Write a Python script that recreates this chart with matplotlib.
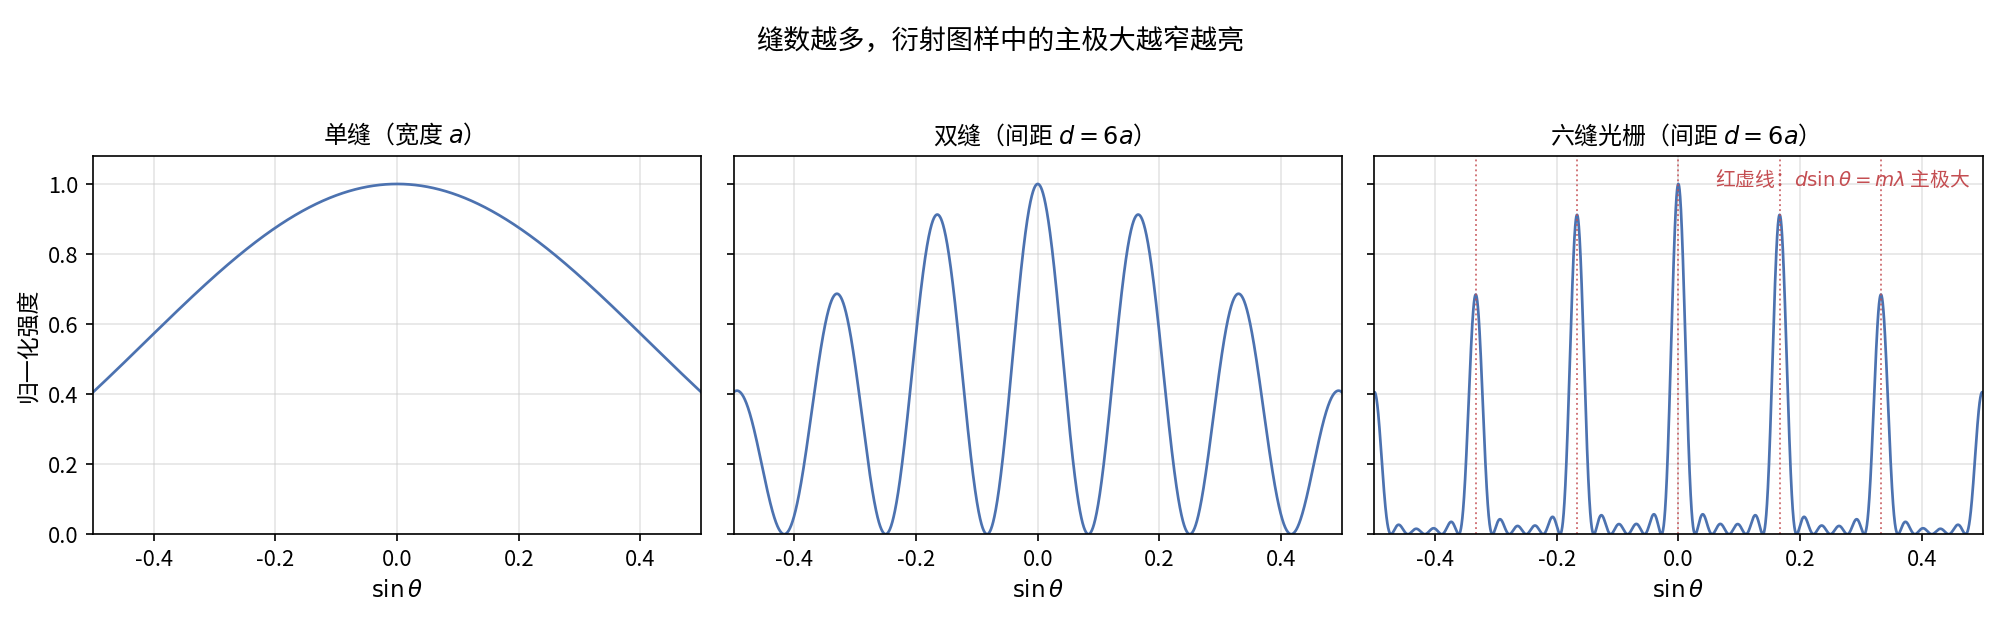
import numpy as np
import matplotlib
matplotlib.use("Agg")
import matplotlib.pyplot as plt

plt.rcParams["font.family"] = ["Noto Sans CJK SC", "DejaVu Sans"]
plt.rcParams["axes.unicode_minus"] = False

# Physical parameters (lengths in units of wavelength)
slit_width = 1.0          # a / lambda
slit_spacing = 6.0        # d / a
slit_counts = [1, 2, 6]
panel_titles = ["单缝（宽度 $a$）", "双缝（间距 $d=6a$）", "六缝光栅（间距 $d=6a$）"]
order_numbers = [-2, -1, 0, 1, 2]
x_range = (-0.5, 0.5)

suptitle = "缝数越多，衍射图样中的主极大越窄越亮"
note = "红虚线：$d\\sin\\theta=m\\lambda$ 主极大"

line_color = "#4C72B0"
red = "#C44E52"


def intensity(s, n):
    beta = np.pi * slit_width * s
    single = np.sinc(beta / np.pi) ** 2
    if n == 1:
        return single
    gamma = np.pi * slit_spacing * slit_width * s
    num = np.sin(n * gamma)
    den = n * np.sin(gamma)
    with np.errstate(divide="ignore", invalid="ignore"):
        grating = np.where(np.abs(den) < 1e-9, 1.0, (num / den) ** 2)
    return single * grating


s = np.linspace(x_range[0], x_range[1], 4001)

fig, axes = plt.subplots(1, 3, figsize=(13.33, 4.127), dpi=150, sharey=True)
fig.subplots_adjust(left=0.0465, right=0.9915, bottom=0.137, top=0.748, wspace=0.053)

for ax, n, title in zip(axes, slit_counts, panel_titles):
    ax.plot(s, intensity(s, n), color=line_color, linewidth=1.3)
    ax.set_title(title, fontsize=11.5)
    ax.set_xlabel(r"$\sin\theta$", fontsize=11)
    ax.set_xlim(*x_range)
    ax.set_ylim(0, 1.08)
    ax.set_xticks([-0.4, -0.2, 0.0, 0.2, 0.4])
    ax.set_yticks([0.0, 0.2, 0.4, 0.6, 0.8, 1.0])
    ax.tick_params(labelsize=10.5)
    ax.grid(True, color="#cccccc", alpha=0.5, linewidth=0.8)
    ax.set_axisbelow(True)

axes[0].set_ylabel("归一化强度", fontsize=11)

grating_ax = axes[2]
for m in order_numbers:
    grating_ax.axvline(m / (slit_spacing * slit_width), color=red, linestyle=":",
                       linewidth=0.9, alpha=0.8)
grating_ax.text(0.98, 0.965, note, transform=grating_ax.transAxes, ha="right", va="top",
                color=red, fontsize=9.5)

fig.suptitle(suptitle, fontsize=13, y=0.955)

fig.savefig("out.png", dpi=150)
